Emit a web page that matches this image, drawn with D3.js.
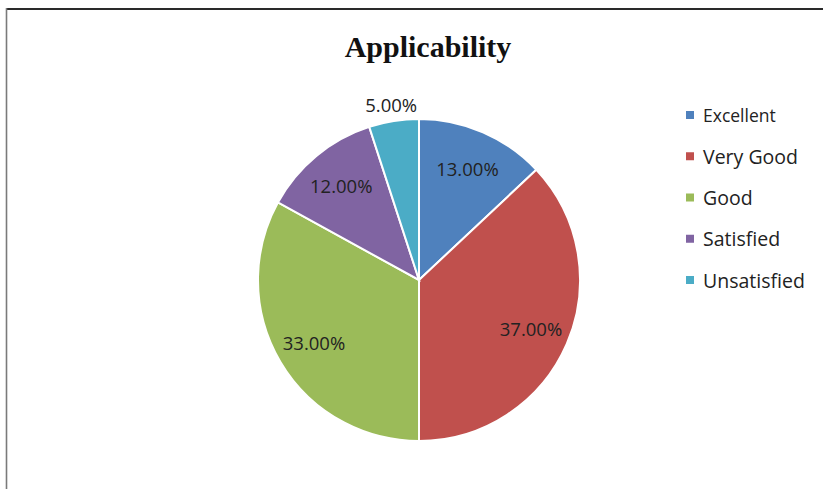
<!DOCTYPE html>
<html>
<head>
<meta charset="utf-8">
<script src="https://cdn.jsdelivr.net/npm/d3@7"></script>
<style>
  html, body { margin: 0; padding: 0; background: #fff; }
  svg { display: block; }
</style>
</head>
<body>
<svg id="chart" width="823" height="489"></svg>
<script>
const categories = ["Excellent", "Very Good", "Good", "Satisfied", "Unsatisfied"];
const values = [13, 37, 33, 12, 5];
const labels = ["13.00%", "37.00%", "33.00%", "12.00%", "5.00%"];
const colors = ["#4F81BD", "#C0504D", "#9BBB59", "#8064A2", "#4BACC6"];
const title = "Applicability";

const svg = d3.select("#chart");
const W = 823, H = 489;

// frame
svg.append("rect").attr("width", W).attr("height", H).attr("fill", "#fff");
svg.append("line").attr("x1", 6).attr("x2", W).attr("y1", 9).attr("y2", 9)
  .attr("stroke", "#2a2a2a").attr("stroke-width", 2.2);
svg.append("line").attr("x1", 6.5).attr("x2", 6.5).attr("y1", 8).attr("y2", H)
  .attr("stroke", "#7a7a7a").attr("stroke-width", 1.6);

// title
svg.append("text")
  .attr("x", 428).attr("y", 57)
  .attr("text-anchor", "middle")
  .attr("font-family", "'Liberation Serif', 'DejaVu Serif', serif")
  .attr("font-weight", "bold")
  .attr("font-size", 30)
  .attr("fill", "#111")
  .text(title);

// pie
const cx = 419, cy = 280, R = 161;
const pie = d3.pie().sort(null).value(d => d)(values);
const arc = d3.arc().innerRadius(0).outerRadius(R);
const g = svg.append("g").attr("transform", `translate(${cx},${cy})`);

g.selectAll("path").data(pie).join("path")
  .attr("d", arc)
  .attr("fill", (d, i) => colors[i])
  .attr("stroke", "#fff")
  .attr("stroke-width", 2);

const labelRadius = (d, i) => (values[i] < 8 ? 178 : 122);
g.selectAll("text.lbl").data(pie).join("text")
  .attr("class", "lbl")
  .attr("transform", (d, i) => {
    const a = (d.startAngle + d.endAngle) / 2;
    const r = labelRadius(d, i);
    return `translate(${Math.sin(a) * r},${-Math.cos(a) * r})`;
  })
  .attr("text-anchor", "middle")
  .attr("dominant-baseline", "central")
  .attr("font-family", "'Open Sans', 'Liberation Sans', sans-serif")
  .attr("font-size", 18.5)
  .attr("fill", "#222")
  .text((d, i) => labels[i]);

// legend
const ly = d3.scalePoint().domain(categories).range([115, 280]);
const lg = svg.append("g");
const items = lg.selectAll("g").data(categories).join("g")
  .attr("transform", d => `translate(686,${ly(d)})`);
items.append("rect")
  .attr("x", 0).attr("y", -4).attr("width", 8).attr("height", 8)
  .attr("fill", (d, i) => colors[i]);
items.append("text")
  .attr("x", 17).attr("y", 0)
  .attr("dominant-baseline", "central")
  .attr("font-family", "'Open Sans', 'Liberation Sans', sans-serif")
  .attr("font-size", (d, i) => i === 0 ? 17.5 : 19.5)
  .attr("fill", "#222")
  .text(d => d);
</script>
</body>
</html>
